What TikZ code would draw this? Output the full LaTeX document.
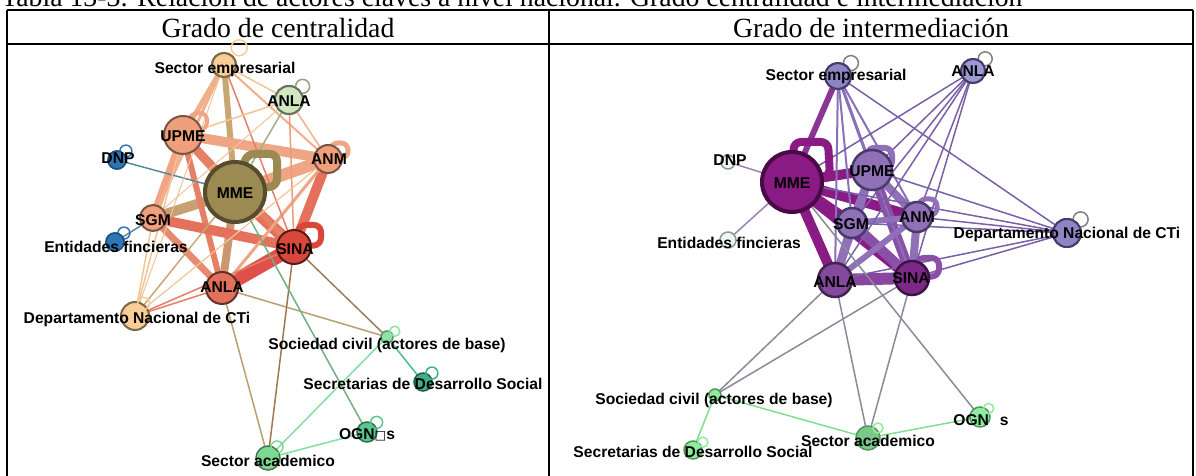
\documentclass[tikz,border=0pt]{standalone}
\usepackage{fontspec}
\setmainfont{Liberation Serif}
\newfontfamily\labfont{Liberation Sans}
\newfontfamily\symfont{DejaVu Sans}
\pgfdeclarelayer{bg}
\pgfsetlayers{bg,main}
% left colours
\definecolor{cMME}{HTML}{9B8A52}\definecolor{cMMEo}{HTML}{574C2C}
\definecolor{cSal}{HTML}{EFA07A}\definecolor{cSalo}{HTML}{7A5545}
\definecolor{cSINA}{HTML}{D9473A}\definecolor{cANLAb}{HTML}{E2705A}
\definecolor{cPeach}{HTML}{F7CE95}\definecolor{cLG}{HTML}{D2E6C0}
\definecolor{cBlue}{HTML}{2F75B5}\definecolor{cBlueo}{HTML}{1F4F7F}
\definecolor{cSoc}{HTML}{8FE3A5}\definecolor{cSec}{HTML}{3FAF86}
\definecolor{cOGN}{HTML}{5AC792}\definecolor{cAca}{HTML}{7DD892}
\definecolor{eA}{HTML}{E57F66}\definecolor{eB}{HTML}{F0A585}
\definecolor{eC}{HTML}{E5705C}\definecolor{eD}{HTML}{C99870}
\definecolor{eE}{HTML}{C9A070}\definecolor{eF}{HTML}{C8A870}
\definecolor{eG}{HTML}{F2B08A}\definecolor{eH}{HTML}{E0504A}
\definecolor{eI}{HTML}{F2C496}\definecolor{eJ}{HTML}{A0B080}
\definecolor{eK}{HTML}{5A8A98}\definecolor{eL}{HTML}{B8A070}
\definecolor{eM}{HTML}{A07850}\definecolor{eN}{HTML}{6FB080}
\definecolor{eO}{HTML}{80E0A0}\definecolor{eP}{HTML}{50C090}
% right colours
\definecolor{rMME}{HTML}{8A1B85}\definecolor{rMMEo}{HTML}{4A0A47}
\definecolor{rMid}{HTML}{9071B8}\definecolor{rMido}{HTML}{4A3A6A}
\definecolor{rANLA}{HTML}{84489C}\definecolor{rSINA}{HTML}{7B2886}
\definecolor{rSem}{HTML}{8E85C5}\definecolor{rAt}{HTML}{9D9BD3}
\definecolor{rWh}{HTML}{EEF7F4}\definecolor{rWho}{HTML}{8A9A95}
\definecolor{rGr}{HTML}{90EDA0}\definecolor{rGro}{HTML}{4A9A5A}
\definecolor{fA}{HTML}{8A1B85}\definecolor{fB}{HTML}{9070B8}
\definecolor{fC}{HTML}{8A50A8}\definecolor{fD}{HTML}{8A70B8}
\definecolor{fE}{HTML}{7A60A8}\definecolor{fF}{HTML}{A080B0}
\definecolor{fG}{HTML}{8A8A9A}\definecolor{fH}{HTML}{80E090}
\newcommand\E[4]{\draw[line width=#3*0.2mm, draw=#4, line cap=round] (#1.center) -- (#2.center);}
\tikzset{
  nd/.style 2 args={circle, inner sep=0pt, minimum size=#1*0.4mm, fill=#2},
  lab/.style={font=\labfont\bfseries\fontsize{8.9}{10}\selectfont, inner sep=0pt, anchor=base},
  hdr/.style={font=\fontsize{15.8}{17}\selectfont, inner sep=0pt, anchor=base},
  lp/.style={draw=#1, line width=0.3mm},
  rule/.style={line width=0.35mm, black},
  blob/.style={line cap=round, line join=round, rounded corners=1.4mm}
}
\begin{document}
\begin{tikzpicture}[x=0.2mm, y=-0.2mm]
\useasboundingbox (0,0) rectangle (1196,476);
\clip (0,0) rectangle (1196,476);
\begin{pgfonlayer}{bg}
\fill[white] (0,0) rectangle (1196,476);
\end{pgfonlayer}
\node[hdr, anchor=base west] (cap) at (1,6.5) {Tabla 13-3: Relación de actores claves a nivel nacional. Grado centralidad e intermediación};
% table
\draw[rule] (7,10) -- (1193,10);
\draw[rule] (7,44) -- (1193,44);
\draw[rule] (7,10) -- (7,476);
\draw[rule] (549,10) -- (549,476);
\draw[rule] (1193,10) -- (1193,476);
\node[hdr] (h1) at (278,37.5) {Grado de centralidad};
\node[hdr] (h2) at (871,37.5) {Grado de intermediación};

% ---------- LEFT nodes ----------
\node[nd={30}{cMME}, draw=cMMEo, line width=0.8mm] (Lmme) at (235,192) {};
\node[nd={19}{cSal}, draw=cSalo, line width=0.4mm] (Lupme) at (183,135) {};
\node[nd={13}{cSal}, draw=cSalo, line width=0.4mm] (Lsgm) at (153,218) {};
\node[nd={14}{cSal}, draw=cSalo, line width=0.4mm] (Lanm) at (328,159) {};
\node[nd={17}{cSINA}, draw=black!60!cSINA, line width=0.4mm] (Lsina) at (294,247) {};
\node[nd={16}{cANLAb}, draw=black!55!cANLAb, line width=0.4mm] (Lanlab) at (222,288) {};
\node[nd={12}{cPeach}, draw=black!50!cPeach, line width=0.4mm] (Lsem) at (224,65) {};
\node[nd={14}{cPeach}, draw=black!50!cPeach, line width=0.4mm] (Ldept) at (135,316) {};
\node[nd={14}{cLG}, draw=black!50!cLG, line width=0.4mm] (Lanlat) at (289,100) {};
\node[nd={9}{cBlue}, draw=cBlueo, line width=0.3mm] (Ldnp) at (117,160) {};
\node[nd={9}{cBlue}, draw=cBlueo, line width=0.3mm] (Lent) at (115,242) {};
\node[nd={6}{cSoc}, draw=black!35!cSoc, line width=0.3mm] (Lsoc) at (387,337) {};
\node[nd={9}{cSec}, draw=black!45!cSec, line width=0.3mm] (Lsec) at (423,382) {};
\node[nd={10}{cOGN}, draw=black!45!cOGN, line width=0.3mm] (Logn) at (367,432) {};
\node[nd={12}{cAca}, draw=black!45!cAca, line width=0.3mm] (Laca) at (268,458) {};

\begin{pgfonlayer}{bg}
\E{Lmme}{Lupme}{9}{eA}
\E{Lmme}{Lanm}{12}{eB}
\E{Lmme}{Lsina}{12}{eC}
\E{Lmme}{Lanlab}{8}{eD}
\E{Lmme}{Lsgm}{10}{eE}
\E{Lmme}{Lsem}{6}{eF}
\E{Lupme}{Lanm}{10}{eB}
\E{Lupme}{Lsgm}{8}{eB}
\E{Lupme}{Lsina}{6}{eA}
\E{Lupme}{Lanlab}{6}{eA}
\E{Lsgm}{Lsina}{10}{eC}
\E{Lsgm}{Lanlab}{7}{eA!70!eB}
\E{Lanlab}{Lsina}{14}{eH}
\E{Lanm}{Lsina}{10}{eC}
\E{Lanm}{Lanlab}{3}{eB}
\E{Lsem}{Lupme}{5}{eG}
\E{Lsem}{Lsgm}{3}{eG}
\E{Lsem}{Lanm}{2}{eG}
\E{Lsem}{Lanlat}{1.5}{eI}
\E{Lsem}{Lsina}{1.5}{eA}
\E{Lanlat}{Lupme}{1.5}{eI}
\E{Lanlat}{Lanm}{1.5}{eG}
\E{Lanlat}{Lmme}{1.5}{eJ}
\E{Lanlat}{Lsina}{1.5}{eA!60!eI}
\E{Lanlat}{Lsgm}{1}{eI}
\E{Ldnp}{Lmme}{1.5}{eK}
\E{Lent}{Lsgm}{1.5}{eK}
\E{Ldept}{Lsgm}{1.5}{eI}
\E{Ldept}{Lupme}{1.5}{eI}
\E{Ldept}{Lanlab}{1.5}{eA}
\E{Ldept}{Lsina}{1.5}{eA}
\E{Ldept}{Lmme}{1.5}{eF}
\E{Ldept}{Lanm}{1.2}{eI}
\E{Ldept}{Lsem}{1}{eI}
\E{Lanlab}{Lsoc}{1.5}{eL}
\E{Lanlab}{Laca}{1.5}{eL}
\E{Lsina}{Lsoc}{1.5}{eL!80!black}
\E{Lsina}{Laca}{1.5}{eM}
\E{Lmme}{Logn}{1.5}{eN}
\E{Lsoc}{Laca}{1.5}{eO}
\E{Lsoc}{Lsec}{1.5}{eP}
\E{Logn}{Laca}{1.5}{eO}
% loops
\draw[blob, line width=8*0.2mm, draw=cMME] (Lmme.center) -- ++(12,-38) -- ++(30,0) -- ++(0,32) -- cycle;
\draw[blob, line width=6*0.2mm, draw=cSINA] (Lsina.center) -- ++(5,-22) -- ++(22,0) -- ++(0,20) -- cycle;
\draw[blob, line width=5*0.2mm, draw=eB] (Lanm.center) -- ++(3,-16) -- ++(17,0) -- ++(0,15) -- cycle;
\draw[blob, line width=4*0.2mm, draw=eB] (Lupme.center) -- ++(8,-22) -- ++(16,0) -- ++(0,16) -- cycle;
\end{pgfonlayer}
\draw[lp=cPeach] ([shift={(6,-8)}]Lsem.north east) circle[radius=1.6mm];
\draw[lp=cLG!70!black] ([shift={(3,-3)}]Lanlat.north east) circle[radius=1.4mm];
\draw[lp=cBlue] ([shift={(2,-2)}]Ldnp.north east) circle[radius=1.2mm];
\draw[lp=cBlue] ([shift={(2,-2)}]Lent.north east) circle[radius=1.2mm];
\draw[lp=cSoc] ([shift={(3,-1)}]Lsoc.north east) circle[radius=1.0mm];
\draw[lp=cSec] ([shift={(2,-2)}]Lsec.north east) circle[radius=1.2mm];
\draw[lp=cOGN] ([shift={(2,-2)}]Logn.north east) circle[radius=1.2mm];
\draw[lp=cAca] ([shift={(0,-2)}]Laca.north east) circle[radius=1.2mm];
\draw[lp=cPeach] ([shift={(-2,-2)}]Ldept.north east) circle[radius=1.2mm];
% redraw nodes on top of loops
\node[nd={12}{cPeach}, draw=black!50!cPeach, line width=0.4mm] at (Lsem) {};
\node[nd={14}{cLG}, draw=black!50!cLG, line width=0.4mm] at (Lanlat) {};
\node[nd={9}{cBlue}, draw=cBlueo, line width=0.3mm] at (Ldnp) {};
\node[nd={9}{cBlue}, draw=cBlueo, line width=0.3mm] at (Lent) {};

% left labels
\node[lab] (tLsem) at (225,73.5) {Sector empresarial};
\node[lab] (tLanlat) at (289,106.5) {ANLA};
\node[lab] (tLupme) at (183,141.5) {UPME};
\node[lab] (tLdnp) at (118,163.5) {DNP};
\node[lab] (tLmme) at (235,198.5) {MME};
\node[lab] (tLsgm) at (153,225.5) {SGM};
\node[lab] (tLent) at (116,252.5) {Entidades fincieras};
\node[lab] (tLanm) at (329,164.5) {ANM};
\node[lab] (tLsina) at (295,254.5) {SINA};
\node[lab] (tLanlab) at (222,292.5) {ANLA};
\node[lab] (tLdept) at (137,323.5) {Departamento Nacional de CTi};
\node[lab] (tLsoc) at (387,349.5) {Sociedad civil (actores de base)};
\node[lab] (tLsec) at (423,389.5) {Secretarias de Desarrollo Social};
\node[lab] (tLogn) at (367,439.5) {OGN{\symfont\fontsize{7}{8}\selectfont □}s};
\node[lab] (tLaca) at (268,466.5) {Sector academico};

% ---------- RIGHT nodes ----------
\node[nd={30}{rMME}, draw=rMMEo, line width=0.8mm] (Rmme) at (792,182) {};
\node[nd={20}{rMid}, draw=rMido, line width=0.5mm] (Rupme) at (872,170) {};
\node[nd={15}{rMid}, draw=rMido, line width=0.5mm] (Rsgm) at (852,223) {};
\node[nd={15}{rMid}, draw=rMido, line width=0.5mm] (Ranm) at (917,217) {};
\node[nd={17}{rANLA}, draw=black!50!rANLA, line width=0.5mm] (Ranlab) at (835,280) {};
\node[nd={17}{rSINA}, draw=black!50!rSINA, line width=0.5mm] (Rsina) at (912,278) {};
\node[nd={13}{rSem}, draw=rMido, line width=0.4mm] (Rsem) at (838,76) {};
\node[nd={12}{rAt}, draw=rMido, line width=0.4mm] (Ranlat) at (973,71) {};
\node[nd={14}{rSem}, draw=rMido, line width=0.4mm] (Rdept) at (1067,233) {};
\node[nd={7}{rWh}, draw=rWho, line width=0.3mm] (Rdnp) at (728,162) {};
\node[nd={8}{rWh}, draw=rWho, line width=0.3mm] (Rent) at (728,240) {};
\node[nd={6}{rGr}, draw=rGro, line width=0.3mm] (Rsoc) at (715,395) {};
\node[nd={9}{rGr}, draw=rGro, line width=0.3mm] (Rsec) at (693,450) {};
\node[nd={12}{rGr!85!black}, draw=rGro, line width=0.3mm] (Raca) at (868,438) {};
\node[nd={10}{rGr}, draw=rGro, line width=0.3mm] (Rogn) at (980,417) {};

\begin{pgfonlayer}{bg}
\E{Rmme}{Rupme}{10}{fA}
\E{Rmme}{Rsgm}{10}{fA}
\E{Rmme}{Ranm}{10}{fA}
\E{Rmme}{Rsina}{12}{fA}
\E{Rmme}{Ranlab}{10}{fA}
\E{Rmme}{Rsem}{6}{fA!70!fB}
\E{Rupme}{Rsgm}{8}{fB}
\E{Rupme}{Ranm}{8}{fB}
\E{Rupme}{Rsina}{10}{fC}
\E{Rupme}{Ranlab}{8}{fB}
\E{Rsgm}{Ranm}{6}{fB}
\E{Rsgm}{Rsina}{10}{fC}
\E{Rsgm}{Ranlab}{8}{fB}
\E{Ranm}{Rsina}{8}{fB}
\E{Ranm}{Ranlab}{6}{fB}
\E{Ranlab}{Rsina}{12}{fC!80!fA}
\E{Rsem}{Rupme}{3}{fD}
\E{Rsem}{Rsgm}{2}{fD}
\E{Rsem}{Ranm}{2}{fD}
\E{Rsem}{Ranlab}{2}{fD}
\E{Rsem}{Rsina}{2}{fD}
\E{Rsem}{Rdept}{1.5}{fE}
\E{Ranlat}{Rmme}{1.5}{fE}
\E{Ranlat}{Rupme}{1.5}{fE}
\E{Ranlat}{Rsgm}{1.5}{fE}
\E{Ranlat}{Ranm}{1.5}{fE}
\E{Ranlat}{Ranlab}{1.5}{fE}
\E{Ranlat}{Rsina}{1.5}{fE}
\E{Rdept}{Rupme}{1.5}{fE}
\E{Rdept}{Ranm}{1.5}{fE}
\E{Rdept}{Rsgm}{1.5}{fE}
\E{Rdept}{Rsina}{1.5}{fE}
\E{Rdept}{Ranlab}{1.5}{fE}
\E{Rdept}{Rmme}{1.5}{fE}
\E{Rdnp}{Rmme}{1.5}{fF}
\E{Rent}{Rmme}{1.5}{fF}
\E{Ranlab}{Rsoc}{1.5}{fG}
\E{Rsina}{Rsoc}{1.5}{fG}
\E{Ranlab}{Raca}{1.5}{fG}
\E{Rsina}{Raca}{1.5}{fG}
\E{Rmme}{Rogn}{1.5}{fG}
\E{Rsoc}{Rsec}{1.5}{fH}
\E{Rsoc}{Raca}{1.5}{fH}
\E{Raca}{Rogn}{1.5}{fH}
\draw[blob, line width=8*0.2mm, draw=fA] (Rmme.center) -- ++(2,-40) -- ++(34,0) -- ++(2,34) -- cycle;
\draw[blob, line width=6*0.2mm, draw=fB] (Rupme.center) -- ++(-5,-22) -- ++(25,0) -- ++(0,20) -- cycle;
\draw[blob, line width=5*0.2mm, draw=fB] (Ranm.center) -- ++(2,-18) -- ++(18,0) -- ++(0,16) -- cycle;
\draw[blob, line width=6*0.2mm, draw=fC] (Rsina.center) -- ++(5,-20) -- ++(22,0) -- ++(0,18) -- cycle;
\end{pgfonlayer}
\draw[lp=gray] ([shift={(3,-3)}]Rsem.north east) circle[radius=1.5mm];
\draw[lp=gray] ([shift={(3,-3)}]Ranlat.north east) circle[radius=1.4mm];
\draw[lp=gray] ([shift={(3,-3)}]Rdept.north east) circle[radius=1.5mm];
\draw[lp=rGr] ([shift={(3,-1)}]Rsec.north east) circle[radius=1.0mm];
\draw[lp=rGr] ([shift={(1,-1)}]Raca.north east) circle[radius=1.0mm];
\draw[lp=rGr] ([shift={(1,-1)}]Rogn.north east) circle[radius=1.0mm];
\node[nd={13}{rSem}, draw=rMido, line width=0.4mm] at (Rsem) {};
\node[nd={12}{rAt}, draw=rMido, line width=0.4mm] at (Ranlat) {};
\node[nd={14}{rSem}, draw=rMido, line width=0.4mm] at (Rdept) {};

% right labels
\node[lab] (tRsem) at (836,80.5) {Sector empresarial};
\node[lab] (tRanlat) at (973,76.5) {ANLA};
\node[lab] (tRdnp) at (730,165.5) {DNP};
\node[lab] (tRmme) at (792,188.5) {MME};
\node[lab] (tRupme) at (872,176.5) {UPME};
\node[lab] (tRsgm) at (851,229.5) {SGM};
\node[lab] (tRanm) at (917,222.5) {ANM};
\node[lab] (tRanlab) at (835,287.5) {ANLA};
\node[lab] (tRsina) at (911,283.5) {SINA};
\node[lab] (tRent) at (729,248.5) {Entidades fincieras};
\node[lab] (tRdept) at (1067,238.5) {Departamento Nacional de CTi};
\node[lab] (tRsoc) at (714,404.5) {Sociedad civil (actores de base)};
\node[lab] (tRsec) at (693,457.5) {Secretarias de Desarrollo Social};
\node[lab] (tRaca) at (868,446.5) {Sector academico};
\node[lab] (tRogn) at (981,425.5) {OGN\hspace{2.2mm}s};
\end{tikzpicture}
\end{document}
